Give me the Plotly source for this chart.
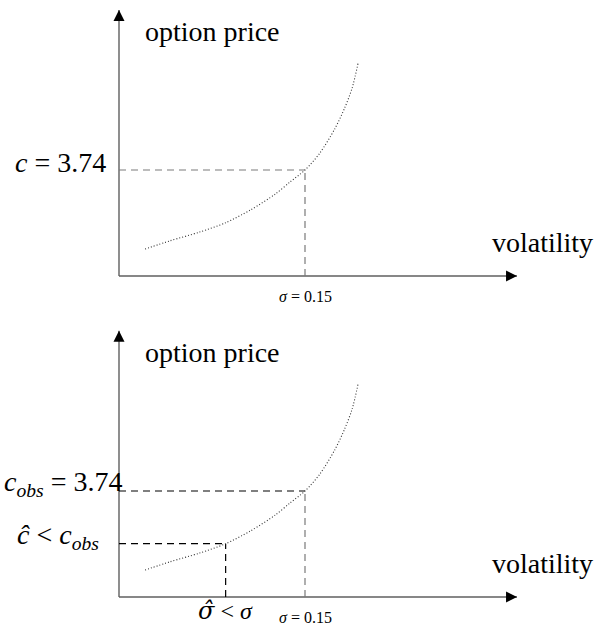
import plotly.graph_objects as go

# Option price as a function of volatility
sigma = [0.021, 0.041, 0.065, 0.086, 0.106, 0.126, 0.138, 0.150, 0.162, 0.174, 0.182, 0.188, 0.193]
price = [0.95, 1.24, 1.55, 1.88, 2.33, 2.89, 3.32, 3.74, 4.34, 5.19, 5.93, 6.63, 7.55]

# Reference points
sigma_true = 0.15
c_obs = 3.74
sigma_hat = 0.086
c_hat = 1.88

# Extent of the drawn axis arrows (arrow tips)
x_axis_end = 0.321
y_axis_end = 9.39

FONT = "Liberation Serif"
AXIS_GREY = "#5f5f5f"
DASH_GREY = "#7a7a7a"

fig = go.Figure()


def add_panel(xa, ya, dashes):
    # axes drawn as plain lines ending in arrowheads
    fig.add_trace(go.Scatter(x=[0, x_axis_end], y=[0, 0], mode="lines",
                             line=dict(color=AXIS_GREY, width=1.4),
                             xaxis=xa, yaxis=ya, hoverinfo="skip"))
    fig.add_trace(go.Scatter(x=[0, 0], y=[0, y_axis_end], mode="lines",
                             line=dict(color=AXIS_GREY, width=1.4),
                             xaxis=xa, yaxis=ya, hoverinfo="skip"))
    fig.add_trace(go.Scatter(x=[x_axis_end, 0], y=[0, y_axis_end], mode="markers",
                             marker=dict(symbol=["arrow-right", "arrow-up"], size=11,
                                         color="#000000", line=dict(width=0)),
                             xaxis=xa, yaxis=ya, hoverinfo="skip"))
    for (xs, ys, col) in dashes:
        fig.add_trace(go.Scatter(x=xs, y=ys, mode="lines",
                                 line=dict(color=col, width=1.2, dash="7px,5px"),
                                 xaxis=xa, yaxis=ya, hoverinfo="skip"))
    fig.add_trace(go.Scatter(x=sigma, y=price, mode="lines",
                             line=dict(color="#333333", width=1.1, dash="1px,2px",
                                       shape="spline", smoothing=0.8),
                             xaxis=xa, yaxis=ya, hoverinfo="skip"))


add_panel("x", "y", [
    ([0, sigma_true], [c_obs, c_obs], DASH_GREY),
    ([sigma_true, sigma_true], [0, c_obs], DASH_GREY),
])
add_panel("x2", "y2", [
    ([0, sigma_true], [c_obs, c_obs], "#000000"),
    ([sigma_true, sigma_true], [0, c_obs], DASH_GREY),
    ([0, sigma_hat], [c_hat, c_hat], "#000000"),
    ([sigma_hat, sigma_hat], [0, c_hat], "#000000"),
])

annotations = []


def label(xr, yr, x, y, text, size, xanchor, yanchor, xshift=0, yshift=0):
    return dict(xref=xr, yref=yr, x=x, y=y, text=text, showarrow=False,
                xanchor=xanchor, yanchor=yanchor, xshift=xshift, yshift=yshift,
                font=dict(family=FONT, size=size, color="#000000"))


for xr, yr in (("x", "y"), ("x2", "y2")):
    annotations.append(label(xr, yr, sigma[0], y_axis_end, "option price", 28,
                             "left", "middle", xshift=-2, yshift=-22))
    annotations.append(label(xr, yr, x_axis_end + 0.06, 0, "volatility", 28,
                             "right", "middle", xshift=4, yshift=34))
    annotations.append(label(xr, yr, sigma_true, 0, "<i>σ</i> = 0.15", 16,
                             "center", "middle", yshift=-20))

annotations.append(label("x", "y", 0, c_obs, "<i>c</i> = 3.74", 28,
                         "right", "middle", xshift=-11, yshift=8))
annotations.append(label("x2", "y2", 0, c_obs,
                         "<i>c</i><sub><i>obs</i></sub> = 3.74", 28,
                         "right", "middle", xshift=5, yshift=8))
annotations.append(label("x2", "y2", 0, c_hat,
                         "<i>ĉ</i> &lt; <i>c</i><sub><i>obs</i></sub>", 28,
                         "right", "middle", xshift=-18, yshift=7))
annotations.append(label("x2", "y2", sigma_hat, 0,
                         "<span style=\"font-family:'DejaVu Serif'\"><i>σ̂</i></span> &lt; <i>σ</i>",
                         24, "center", "middle", yshift=-14))

x_range = [-119 / 1240, 475 / 1240]
fig.update_layout(
    width=594, height=627,
    margin=dict(l=0, r=0, t=0, b=0),
    paper_bgcolor="white", plot_bgcolor="white",
    showlegend=False,
    xaxis=dict(domain=[0, 1], range=x_range, visible=False, anchor="y"),
    yaxis=dict(domain=[0.5, 1], range=[-1.323, 9.739], visible=False, anchor="x"),
    xaxis2=dict(domain=[0, 1], range=x_range, visible=False, anchor="y2"),
    yaxis2=dict(domain=[0, 0.5], range=[-1.0586, 10.003], visible=False, anchor="x2"),
    annotations=annotations,
)

fig.write_html("out.html")
